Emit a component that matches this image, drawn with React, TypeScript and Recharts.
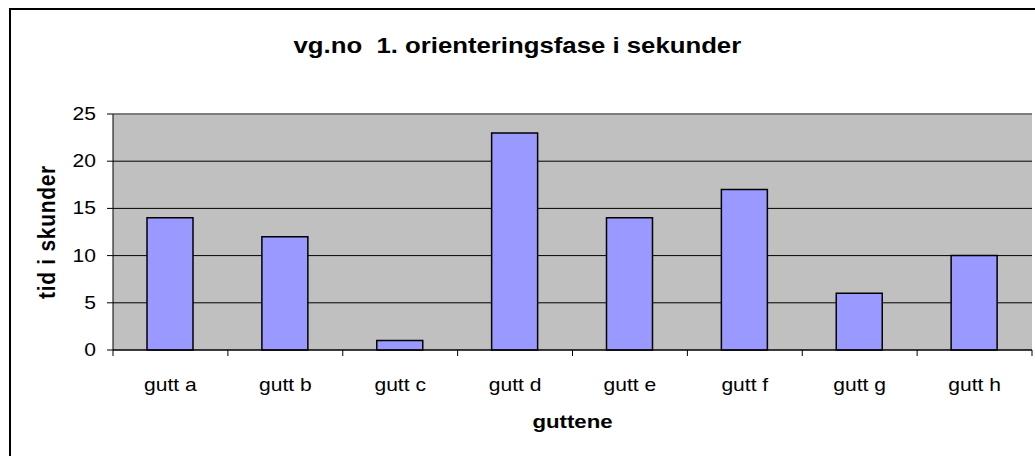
import { BarChart, Bar, XAxis, YAxis, CartesianGrid, ReferenceLine, Label } from 'recharts'

const categories = ['gutt a', 'gutt b', 'gutt c', 'gutt d', 'gutt e', 'gutt f', 'gutt g', 'gutt h']
const seconds = [14, 12, 1, 23, 14, 17, 6, 10]
const yTicks = [0, 5, 10, 15, 20, 25]

const title = 'vg.no  1. orienteringsfase i sekunder'
const xTitle = 'guttene'
const yTitle = 'tid i skunder'

const data = categories.map((name, i) => ({ name, tid: seconds[i] }))

const FONT = '"Liberation Sans", Arial, sans-serif'
const STRETCH = 1.17

/* ── Custom ticks ────────────────────────────────────────── */

// Excel style: tick marks sit between categories, labels in the middle
function XTick({ x, y, payload, index, visibleTicksCount }: any) {
  const half = payload.offset || 0
  const isLast = index === visibleTicksCount - 1
  return (
    <g>
      <line x1={x - half} x2={x - half} y1={y} y2={y + 6} stroke="#000" />
      {isLast ? <line x1={x + half} x2={x + half} y1={y} y2={y + 6} stroke="#000" /> : null}
      <text
        transform={`translate(${x}, ${y + 41}) scale(${STRETCH}, 1)`}
        textAnchor="middle"
        fill="#000"
        fontSize={18}
        fontFamily={FONT}
      >
        {payload.value}
      </text>
    </g>
  )
}

function YTick({ x, y, payload }: any) {
  return (
    <text
      transform={`translate(${x - 2}, ${y + 6}) scale(${STRETCH}, 1)`}
      textAnchor="end"
      fill="#000"
      fontSize={18}
      fontFamily={FONT}
    >
      {payload.value}
    </text>
  )
}

function YTitle({ viewBox }: any) {
  const cx = viewBox.x + 33
  const cy = viewBox.y + viewBox.height / 2
  return (
    <text
      transform={`translate(${cx}, ${cy}) scale(${STRETCH}, 1) rotate(-90)`}
      textAnchor="middle"
      dominantBaseline="central"
      fontSize={21}
      fontWeight="bold"
      fontFamily={FONT}
      letterSpacing={0.7}
      fill="#000"
    >
      {yTitle}
    </text>
  )
}

function XTitle({ viewBox }: any) {
  return (
    <text
      transform={`translate(${viewBox.x + viewBox.width / 2}, 428) scale(${STRETCH}, 1)`}
      textAnchor="middle"
      fontSize={19}
      fontWeight="bold"
      fontFamily={FONT}
      fill="#000"
    >
      {xTitle}
    </text>
  )
}

export default function App() {
  return (
    <div
      style={{
        position: 'absolute',
        left: 0,
        top: 0,
        width: 1035,
        height: 456,
        overflow: 'hidden',
        background: '#fff',
      }}
    >
      {/* outer chart frame, runs off the right and bottom */}
      <div
        style={{
          position: 'absolute',
          left: 9,
          top: 8,
          width: 1040,
          height: 470,
          border: '2px solid #000',
          boxSizing: 'border-box',
        }}
      />
      <div
        style={{
          position: 'absolute',
          left: 0,
          top: 33,
          width: 1035,
          textAlign: 'center',
        }}
      >
        <span
          style={{
            display: 'inline-block',
            whiteSpace: 'pre',
            fontFamily: FONT,
            fontSize: 22,
            fontWeight: 'bold',
            transform: `scaleX(${STRETCH})`,
          }}
        >
          {title}
        </span>
      </div>

      <div style={{ position: 'absolute', left: 0, top: 0 }}>
        <BarChart
          width={1035}
          height={456}
          data={data}
          margin={{ top: 114, right: 3, left: 13, bottom: 76 }}
          barSize={46}
        >
          <CartesianGrid
            vertical={false}
            stroke="#000"
            strokeWidth={1}
            fill="#C0C0C0"
            fillOpacity={1}
          />
          <XAxis
            dataKey="name"
            tick={<XTick />}
            tickLine={false}
            tickSize={0}
            tickMargin={0}
            axisLine={{ stroke: '#000', strokeWidth: 1 }}
            height={30}
            interval={0}
          >
            <Label content={<XTitle />} />
          </XAxis>
          <YAxis
            domain={[0, 25]}
            ticks={yTicks}
            interval={0}
            width={100}
            tickSize={6}
            tickMargin={9}
            tickLine={{ stroke: '#000' }}
            axisLine={{ stroke: '#000', strokeWidth: 1 }}
            tick={<YTick />}
          >
            <Label content={<YTitle />} />
          </YAxis>
          {/* gray frame on the right side of the plot area */}
          <YAxis
            yAxisId="frame"
            orientation="right"
            domain={[0, 25]}
            width={0}
            tick={false}
            tickLine={false}
            axisLine={{ stroke: '#808080', strokeWidth: 1.5 }}
          />
          <ReferenceLine y={25} stroke="#808080" strokeWidth={1.5} />
          <Bar dataKey="tid" fill="#9999FF" stroke="#000" strokeWidth={1.5} isAnimationActive={false} />
        </BarChart>
      </div>
    </div>
  )
}
